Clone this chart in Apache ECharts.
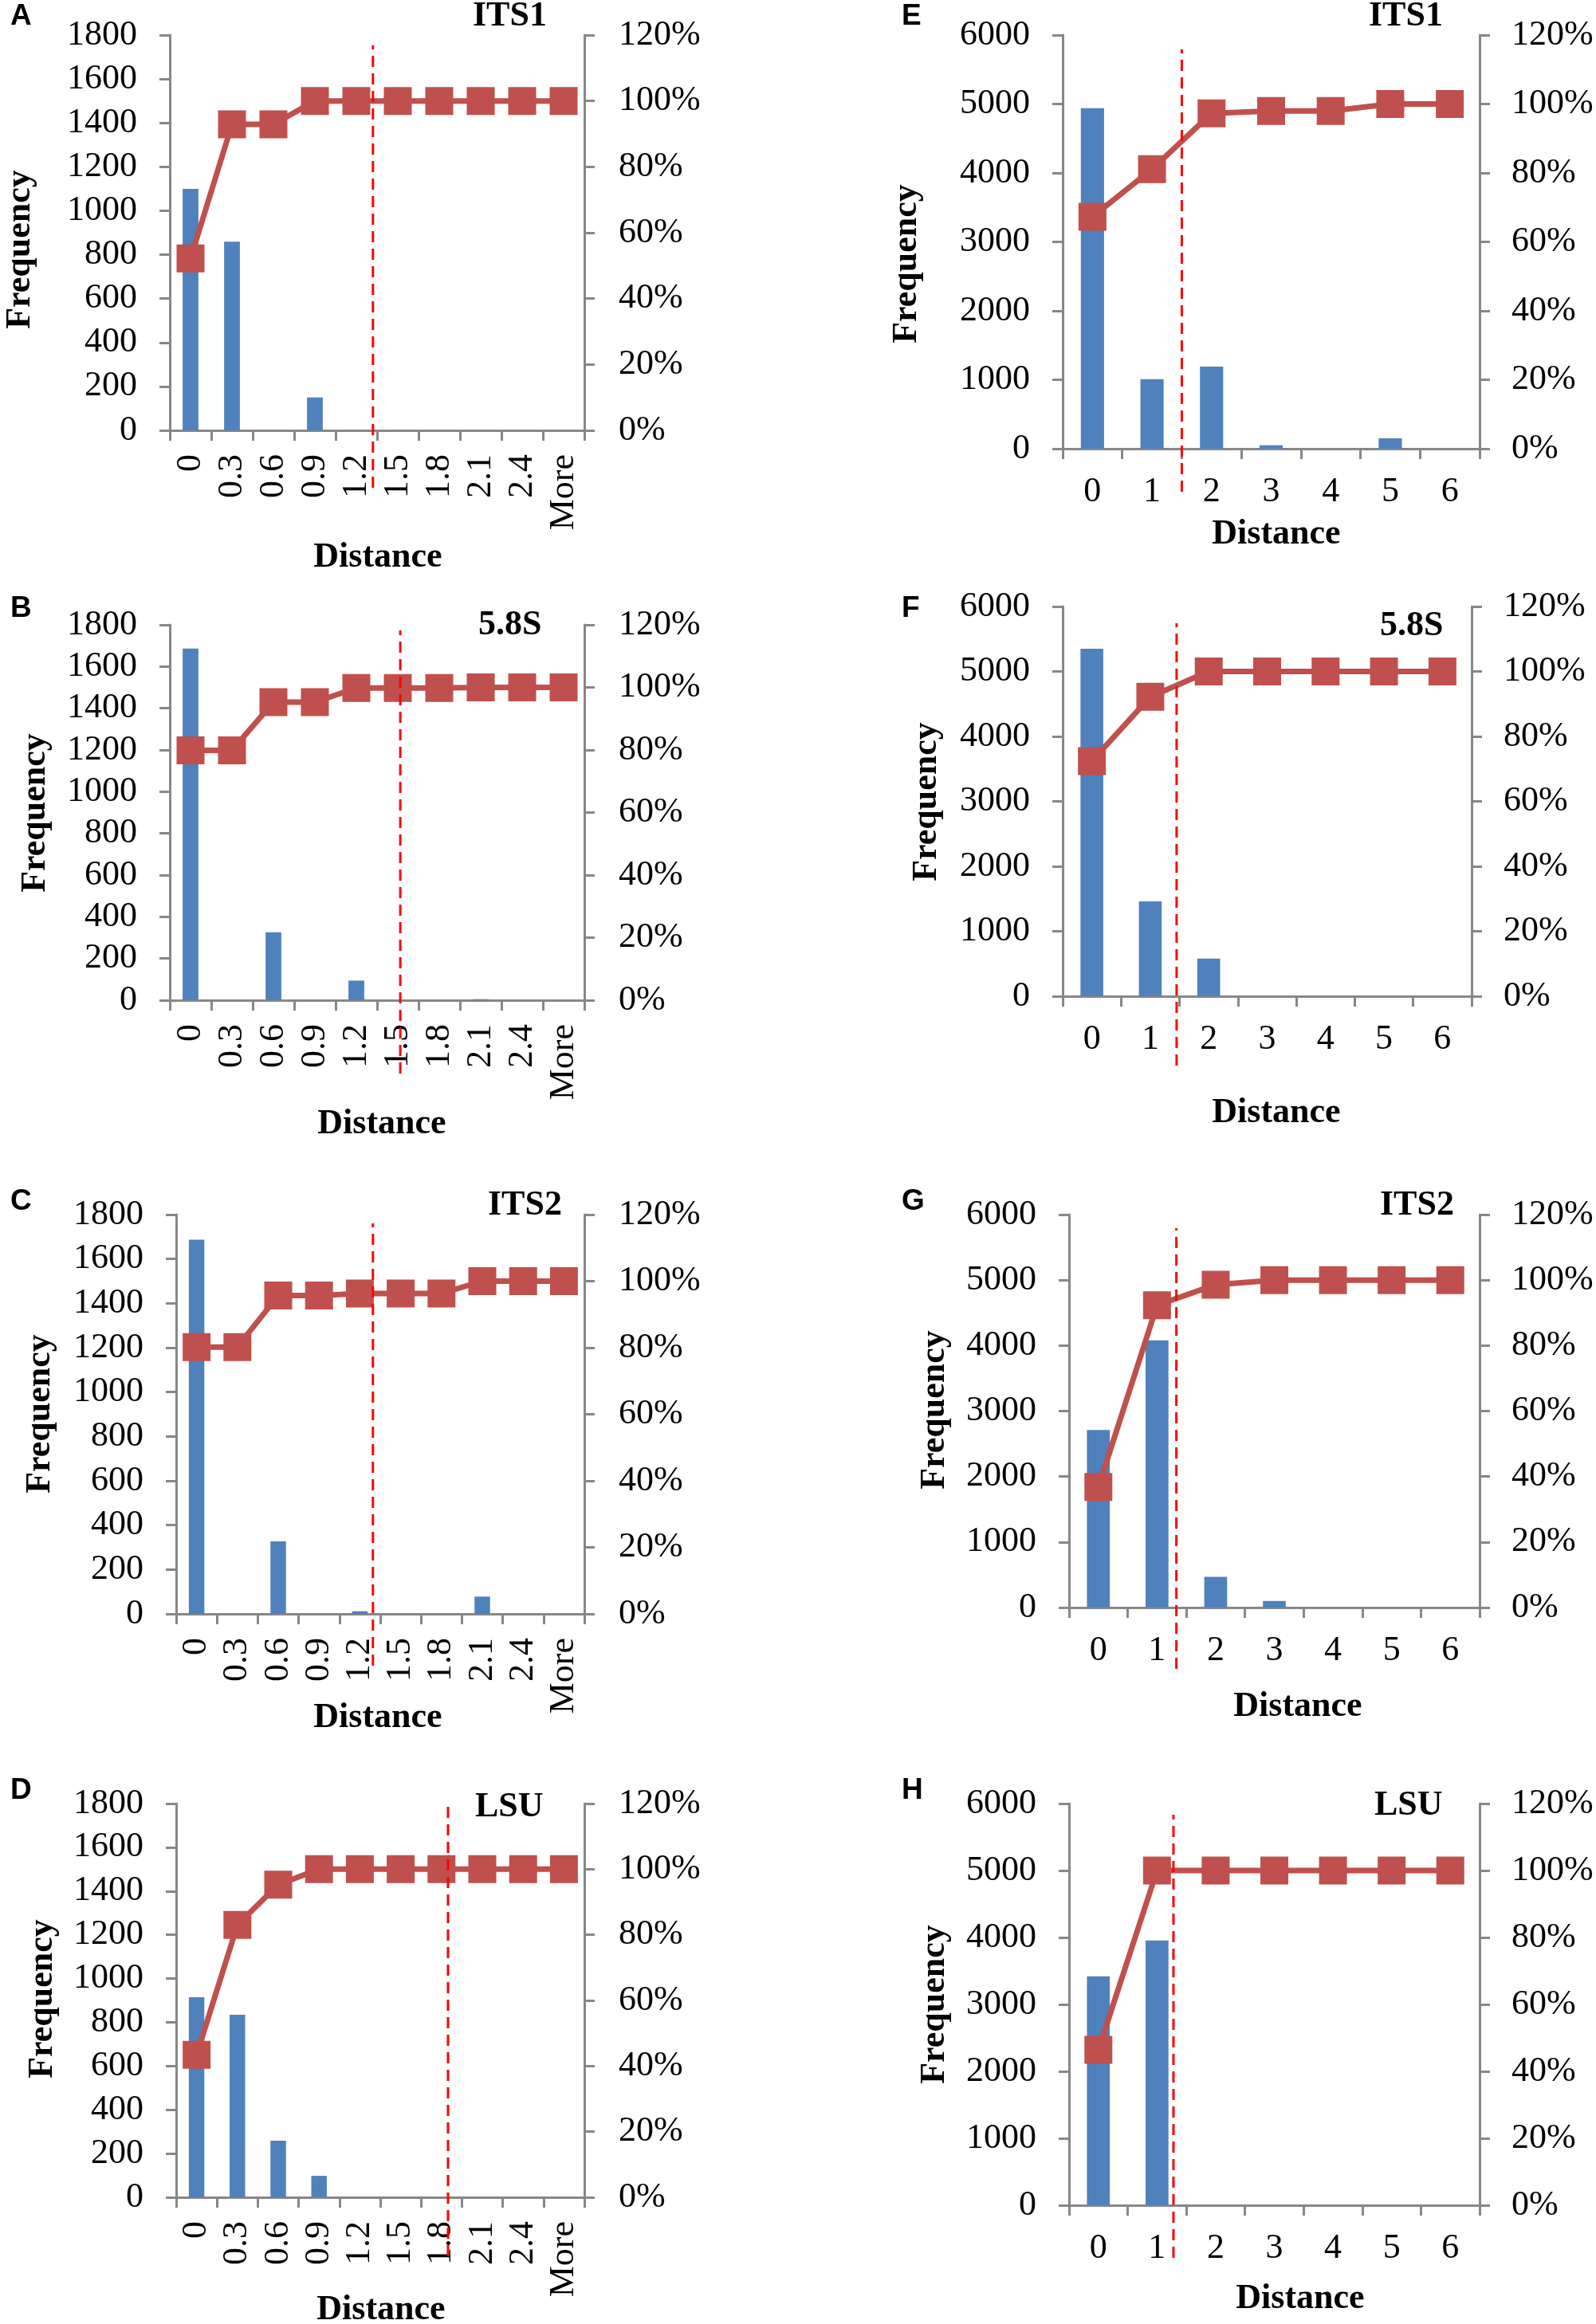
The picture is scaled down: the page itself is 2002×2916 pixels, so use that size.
<!DOCTYPE html>
<html>
<head>
<meta charset="utf-8">
<script src="https://cdn.jsdelivr.net/npm/echarts@6/dist/echarts.min.js"></script>
<style>
  html, body { margin: 0; padding: 0; background: #fff; }
  #chart { width: 2002px; height: 2916px; }
</style>
</head>
<body>
<div id="chart"></div>
<script>
// ---------------- data ----------------
const distCatsFine = ['0', '0.3', '0.6', '0.9', '1.2', '1.5', '1.8', '2.1', '2.4', 'More'];
const distCatsInt = ['0', '1', '2', '3', '4', '5', '6'];

const freqA = [1100, 859, 0, 150, 0, 0, 0, 0, 0, 0];
const cumA  = [52.2, 92.9, 92.9, 100, 100, 100, 100, 100, 100, 100];
const freqB = [1686, 0, 326, 0, 94, 0, 0, 5, 0, 0];
const cumB  = [79.9, 79.9, 95.3, 95.3, 99.8, 99.8, 99.8, 100, 100, 100];
const freqC = [1687, 0, 327, 0, 12, 0, 0, 78, 0, 0];
const cumC  = [80.2, 80.2, 95.7, 95.7, 96.3, 96.3, 96.3, 100, 100, 100];
const freqD = [915, 834, 259, 98, 0, 0, 0, 0, 0, 0];
const cumD  = [43.4, 83.0, 95.3, 100, 100, 100, 100, 100, 100, 100];

const freqE = [4940, 1010, 1190, 50, 0, 150, 0];
const cumE  = [67.3, 81.1, 97.3, 98.0, 98.0, 100, 100];
const freqF = [5350, 1460, 580, 0, 0, 0, 0];
const cumF  = [72.4, 92.2, 100, 100, 100, 100, 100];
const freqG = [2710, 4080, 470, 100, 0, 0, 0];
const cumG  = [36.8, 92.3, 98.6, 100, 100, 100, 100];
const freqH = [3420, 3955, 0, 0, 0, 0, 0];
const cumH  = [46.4, 100, 100, 100, 100, 100, 100];

// cut-off positions of the red dashed lines, in category-band units from the left axis
const cutoffs = { A: 4.9, B: 5.56, C: 4.82, D: 6.66, E: 2.0, F: 1.95, G: 1.83, H: 1.78 };

const panelLetters = ['A', 'B', 'C', 'D', 'E', 'F', 'G', 'H'];
const regionNames = ['ITS1', '5.8S', 'ITS2', 'LSU', 'ITS1', '5.8S', 'ITS2', 'LSU'];
const leftMaxFine = 1800, leftStepFine = 200;
const leftMaxInt = 6000, leftStepInt = 1000;
const pctMax = 120, pctStep = 20;

// ---------------- layout (pixels) ----------------
const layout = {
  A: { l: 213, r: 733, t: 44, b: 540, dt: 57, db: 612, letter: [13, 21], title: [593, 21], freq: [26, 313], dist: [474, 700] },
  B: { l: 213, r: 733, t: 784, b: 1255, dt: 791, db: 1347, letter: [13, 764], title: [600, 785], freq: [45, 1020], dist: [479, 1411] },
  C: { l: 221, r: 733, t: 1524, b: 2025, dt: 1535, db: 2090, letter: [13, 1508], title: [612, 1513], freq: [51, 1774], dist: [474, 2156] },
  D: { l: 221, r: 733, t: 2263, b: 2757, dt: 2266, db: 2831, letter: [13, 2247], title: [596, 2268], freq: [54, 2508], dist: [478, 2899] },
  E: { l: 1333, r: 1856, t: 44, b: 563, dt: 62, db: 617, letter: [1131, 21], title: [1717, 21], freq: [1138, 331], dist: [1601, 671] },
  F: { l: 1333, r: 1846, t: 761, b: 1250, dt: 782, db: 1337, letter: [1131, 764], title: [1731, 786], freq: [1163, 1006], dist: [1601, 1397] },
  G: { l: 1341, r: 1856, t: 1524, b: 2017, dt: 1541, db: 2094, letter: [1131, 1508], title: [1731, 1513], freq: [1173, 1769], dist: [1628, 2142] },
  H: { l: 1341, r: 1856, t: 2263, b: 2767, dt: 2277, db: 2833, letter: [1131, 2247], title: [1724, 2266], freq: [1173, 2515], dist: [1631, 2885] }
};

const panelData = {
  A: [distCatsFine, freqA, cumA], B: [distCatsFine, freqB, cumB],
  C: [distCatsFine, freqC, cumC], D: [distCatsFine, freqD, cumD],
  E: [distCatsInt, freqE, cumE], F: [distCatsInt, freqF, cumF],
  G: [distCatsInt, freqG, cumG], H: [distCatsInt, freqH, cumH]
};

const AXIS_GRAY = '#878787';
const BAR_BLUE = '#4F81BD';
const LINE_RED = '#C0504D';
const SERIF = '"Liberation Serif", "Times New Roman", serif';
const SANS = '"Liberation Sans", Arial, sans-serif';

const grid = [], xAxis = [], yAxis = [], series = [], graphic = [];

panelLetters.forEach(function (key, i) {
  const L = layout[key];
  const d = panelData[key];
  const cats = d[0], freq = d[1], cum = d[2];
  const fine = cats.length === 10;
  const gi = grid.length;

  // main grid
  grid.push({ left: L.l, top: L.t, width: L.r - L.l, height: L.b - L.t, containLabel: false, outerBoundsMode: 'none' });
  // dashed cut-off grid
  grid.push({ left: L.l, top: L.dt, width: L.r - L.l, height: L.db - L.dt, containLabel: false, outerBoundsMode: 'none' });

  const xi = xAxis.length;
  xAxis.push({
    type: 'category', gridIndex: gi, data: cats, boundaryGap: true,
    axisLine: { show: true, onZero: false, lineStyle: { color: AXIS_GRAY, width: 3 } },
    axisTick: { show: true, inside: false, length: 13, alignWithLabel: false, lineStyle: { color: AXIS_GRAY, width: 3 } },
    axisLabel: {
      show: true, interval: 0, rotate: fine ? 90 : 0, margin: fine ? 30 : 32,
      color: '#000', fontFamily: SERIF, fontSize: 44
    },
    splitLine: { show: false }
  });
  xAxis.push({ type: 'value', gridIndex: gi + 1, min: 0, max: cats.length, show: false });

  const yi = yAxis.length;
  yAxis.push({
    type: 'value', gridIndex: gi, position: 'left',
    min: 0, max: fine ? leftMaxFine : leftMaxInt, interval: fine ? leftStepFine : leftStepInt,
    axisLine: { show: true, lineStyle: { color: AXIS_GRAY, width: 3 } },
    axisTick: { show: true, inside: false, length: 13, lineStyle: { color: AXIS_GRAY, width: 3 } },
    axisLabel: {
      show: true, margin: 41, color: '#000', fontFamily: SERIF, fontSize: 44,
      formatter: function (v) { return String(v); }
    },
    splitLine: { show: false }
  });
  yAxis.push({
    type: 'value', gridIndex: gi, position: 'right',
    min: 0, max: pctMax, interval: pctStep,
    axisLine: { show: true, lineStyle: { color: AXIS_GRAY, width: 3 } },
    axisTick: { show: true, inside: false, length: 13, lineStyle: { color: AXIS_GRAY, width: 3 } },
    axisLabel: {
      show: true, margin: fine ? 43 : 40, color: '#000', fontFamily: SERIF, fontSize: 44,
      formatter: function (v) { return String(v) + '%'; }
    },
    splitLine: { show: false }
  });
  yAxis.push({ type: 'value', gridIndex: gi + 1, min: 0, max: 1, show: false });

  series.push({
    type: 'bar', xAxisIndex: xi, yAxisIndex: yi, data: freq,
    barWidth: fine ? '38%' : '39%',
    itemStyle: { color: BAR_BLUE }, silent: true, animation: false, z: 2
  });
  series.push({
    type: 'line', xAxisIndex: xi, yAxisIndex: yi + 1, data: cum,
    symbol: 'rect', symbolSize: 35, showSymbol: true,
    lineStyle: { color: LINE_RED, width: 7 },
    itemStyle: { color: LINE_RED, borderWidth: 0 },
    silent: true, animation: false, z: 3
  });
  series.push({
    type: 'line', xAxisIndex: xi + 1, yAxisIndex: yi + 2,
    data: [[cutoffs[key], 0], [cutoffs[key], 1]],
    symbol: 'none',
    lineStyle: { color: '#FF0000', width: 3, type: [14, 8] },
    silent: true, animation: false, z: 5
  });

  // texts
  graphic.push({
    type: 'text', x: L.letter[0], y: L.letter[1],
    style: { text: key, font: 'bold 37px ' + SANS, fill: '#000', align: 'left', verticalAlign: 'middle', textAlign: 'left', textVerticalAlign: 'middle' }
  });
  graphic.push({
    type: 'text', x: L.title[0], y: L.title[1],
    style: { text: regionNames[i], font: 'bold 44px ' + SERIF, fill: '#000', align: 'left', verticalAlign: 'middle', textAlign: 'left', textVerticalAlign: 'middle' }
  });
  graphic.push({
    type: 'text', x: L.freq[0], y: L.freq[1], rotation: Math.PI / 2,
    style: { text: 'Frequency', font: 'bold 44px ' + SERIF, fill: '#000', align: 'center', verticalAlign: 'middle', textAlign: 'center', textVerticalAlign: 'middle' }
  });
  graphic.push({
    type: 'text', x: L.dist[0], y: L.dist[1],
    style: { text: 'Distance', font: 'bold 44px ' + SERIF, fill: '#000', align: 'center', verticalAlign: 'middle', textAlign: 'center', textVerticalAlign: 'middle' }
  });
});

const chart = echarts.init(document.getElementById('chart'), null, { renderer: 'canvas', width: 2002, height: 2916 });
chart.setOption({
  backgroundColor: '#ffffff',
  animation: false,
  grid: grid,
  xAxis: xAxis,
  yAxis: yAxis,
  series: series,
  graphic: graphic
});
</script>
</body>
</html>
